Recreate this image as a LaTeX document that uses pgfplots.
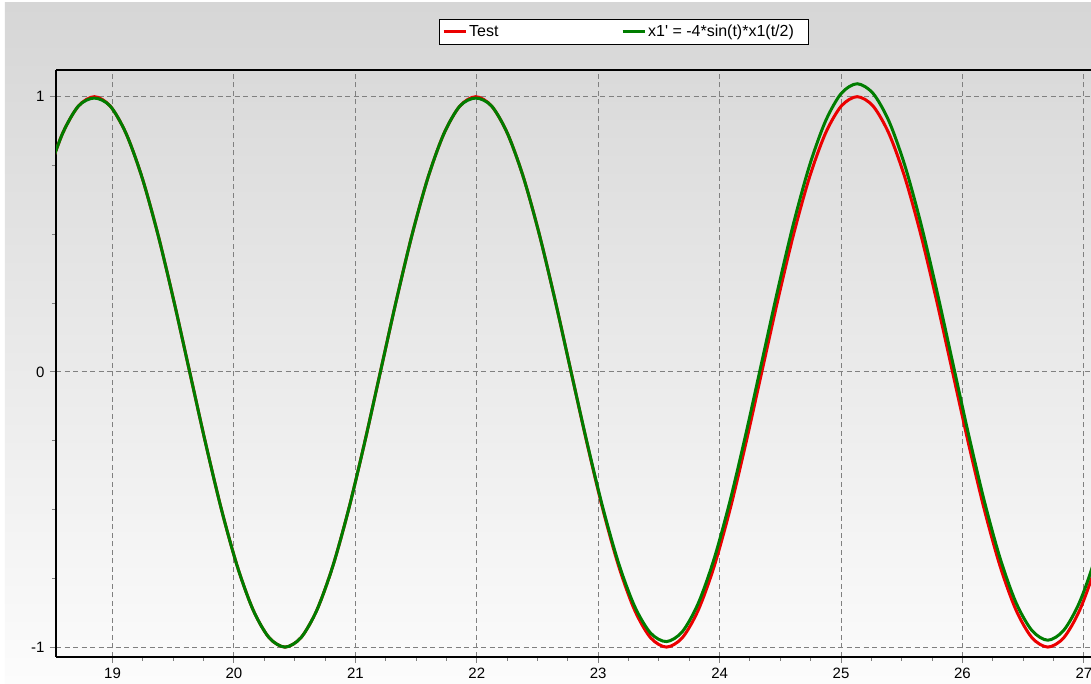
\documentclass[border=0pt]{standalone}
\usepackage{pgfplots}
\pgfplotsset{compat=1.18}
\usepackage{fontspec}
\setmainfont{Liberation Sans}
\definecolor{bgtop}{RGB}{214,214,214}
\definecolor{bgbot}{RGB}{252,252,252}
\definecolor{gridgray}{RGB}{128,128,128}
\definecolor{cred}{RGB}{235,0,0}
\definecolor{cgreen}{RGB}{0,125,0}
\begin{document}
\begin{tikzpicture}
\useasboundingbox (-56pt,-27pt) rectangle (1035pt,657pt);
\clip (-56pt,-27pt) rectangle (1035pt,657pt);
\fill[white] (-56pt,-27pt) rectangle (1035pt,657pt);
\shade[top color=bgtop, bottom color=bgbot] (-51pt,-27pt) rectangle (1035pt,654pt);
\begin{axis}[
  at={(0pt,0pt)}, anchor=south west,
  scale only axis, width=1035pt, height=587pt,
  xmin=18.534, xmax=27.058, ymin=-1.036, ymax=1.097,
  axis lines*=left, axis line style={-, line width=2pt, black},
  xtick={19,20,21,22,23,24,25,26,27},
  ytick={-1,0,1},
  minor x tick num=3, minor y tick num=3,
  tick align=outside,
  major tick length=6pt, minor tick length=4pt,
  every tick/.style={gridgray, line width=1pt},
  grid=major,
  major grid style={gridgray, line width=1pt, dash pattern=on 5pt off 3.5pt},
  tick label style={font=\fontsize{15}{17}\selectfont},
  /pgf/number format/assume math mode=true,
  xticklabel style={yshift=-1pt},
  yticklabel style={xshift=-2pt},
  legend columns=2,
  legend style={at={(392pt,612pt)}, anchor=south west, draw=black, line width=1pt, fill=white,
    font=\fontsize{16}{18}\selectfont, inner xsep=3pt, inner ysep=4pt,
    /tikz/every even column/.append style={column sep=0pt}},
  legend image code/.code={\draw[#1] (0pt,0pt) -- (22pt,0pt);},
  legend cell align=left,
  clip=true,
]
\addplot[cred, line width=3pt, smooth] coordinates {
(18.4569,0.70711) (18.5878,0.86603) (18.7187,0.96593) (18.8496,1) (18.9805,0.96593) (19.1114,0.86603)
(19.2423,0.70711) (19.3732,0.5) (19.5041,0.25882) (19.6350,0) (19.7659,-0.25882) (19.8968,-0.5)
(20.0277,-0.70711) (20.1586,-0.86603) (20.2895,-0.96593) (20.4204,-1) (20.5513,-0.96593) (20.6822,-0.86603)
(20.8131,-0.70711) (20.9440,-0.5) (21.0749,-0.25882) (21.2058,0) (21.3367,0.25882) (21.4676,0.5)
(21.5985,0.70711) (21.7294,0.86603) (21.8603,0.96593) (21.9911,1) (22.1220,0.96593) (22.2529,0.86603)
(22.3838,0.70711) (22.5147,0.5) (22.6456,0.25882) (22.7765,0) (22.9074,-0.25882) (23.0383,-0.5)
(23.1692,-0.70711) (23.3001,-0.86603) (23.4310,-0.96593) (23.5619,-1) (23.6928,-0.96593) (23.8237,-0.86603)
(23.9546,-0.70711) (24.0855,-0.5) (24.2164,-0.25882) (24.3473,0) (24.4782,0.25882) (24.6091,0.5)
(24.7400,0.70711) (24.8709,0.86603) (25.0018,0.96593) (25.1327,1) (25.2636,0.96593) (25.3945,0.86603)
(25.5254,0.70711) (25.6563,0.5) (25.7872,0.25882) (25.9181,0) (26.0490,-0.25882) (26.1799,-0.5)
(26.3108,-0.70711) (26.4417,-0.86603) (26.5726,-0.96593) (26.7035,-1) (26.8344,-0.96593) (26.9653,-0.86603)
(27.0962,-0.70711) (27.2271,-0.5)
};
\addlegendentry{\makebox[150pt][l]{Test}}
\addplot[cgreen, line width=3pt, smooth] coordinates {
(18.4569,0.70711) (18.5878,0.86603) (18.7187,0.96593) (18.8496,0.995) (18.9805,0.96593) (19.1114,0.86603)
(19.2423,0.70711) (19.3732,0.5) (19.5041,0.25882) (19.6350,0) (19.7659,-0.25882) (19.8968,-0.5)
(20.0277,-0.70711) (20.1586,-0.86603) (20.2895,-0.96593) (20.4204,-1) (20.5513,-0.96593) (20.6822,-0.86603)
(20.8131,-0.70711) (20.9440,-0.5) (21.0749,-0.25882) (21.2058,0) (21.3367,0.25882) (21.4676,0.5)
(21.5985,0.70711) (21.7294,0.86603) (21.8603,0.96593) (21.9911,0.995) (22.1220,0.96593) (22.2529,0.86603)
(22.3838,0.70711) (22.5147,0.5) (22.6456,0.25882) (22.7765,0) (22.9074,-0.25582) (23.0383,-0.494)
(23.1692,-0.69711) (23.3001,-0.85203) (23.4310,-0.94893) (23.5619,-0.98) (23.6928,-0.94393) (23.8237,-0.84103)
(23.9546,-0.67911) (24.0855,-0.469) (24.2164,-0.22482) (24.3473,0.036) (24.4782,0.29682) (24.6091,0.54)
(24.7400,0.74911) (24.8709,0.91003) (25.0018,1.01193) (25.1327,1.047) (25.2636,1.01193) (25.3945,0.91103)
(25.5254,0.75011) (25.6563,0.541) (25.7872,0.29782) (25.9181,0.037) (26.0490,-0.22482) (26.1799,-0.469)
(26.3108,-0.67811) (26.4417,-0.83903) (26.5726,-0.93993) (26.7035,-0.975) (26.8344,-0.93893) (26.9653,-0.83603)
(27.0962,-0.67311) (27.2271,-0.462)
};
\addlegendentry{x1\textquotesingle{} = -4*sin(t)*x1(t/2)\rule{10pt}{0pt}}
\draw[black, line width=1.3pt] (rel axis cs:0,1) -- (rel axis cs:1,1);
\end{axis}
\end{tikzpicture}
\end{document}
